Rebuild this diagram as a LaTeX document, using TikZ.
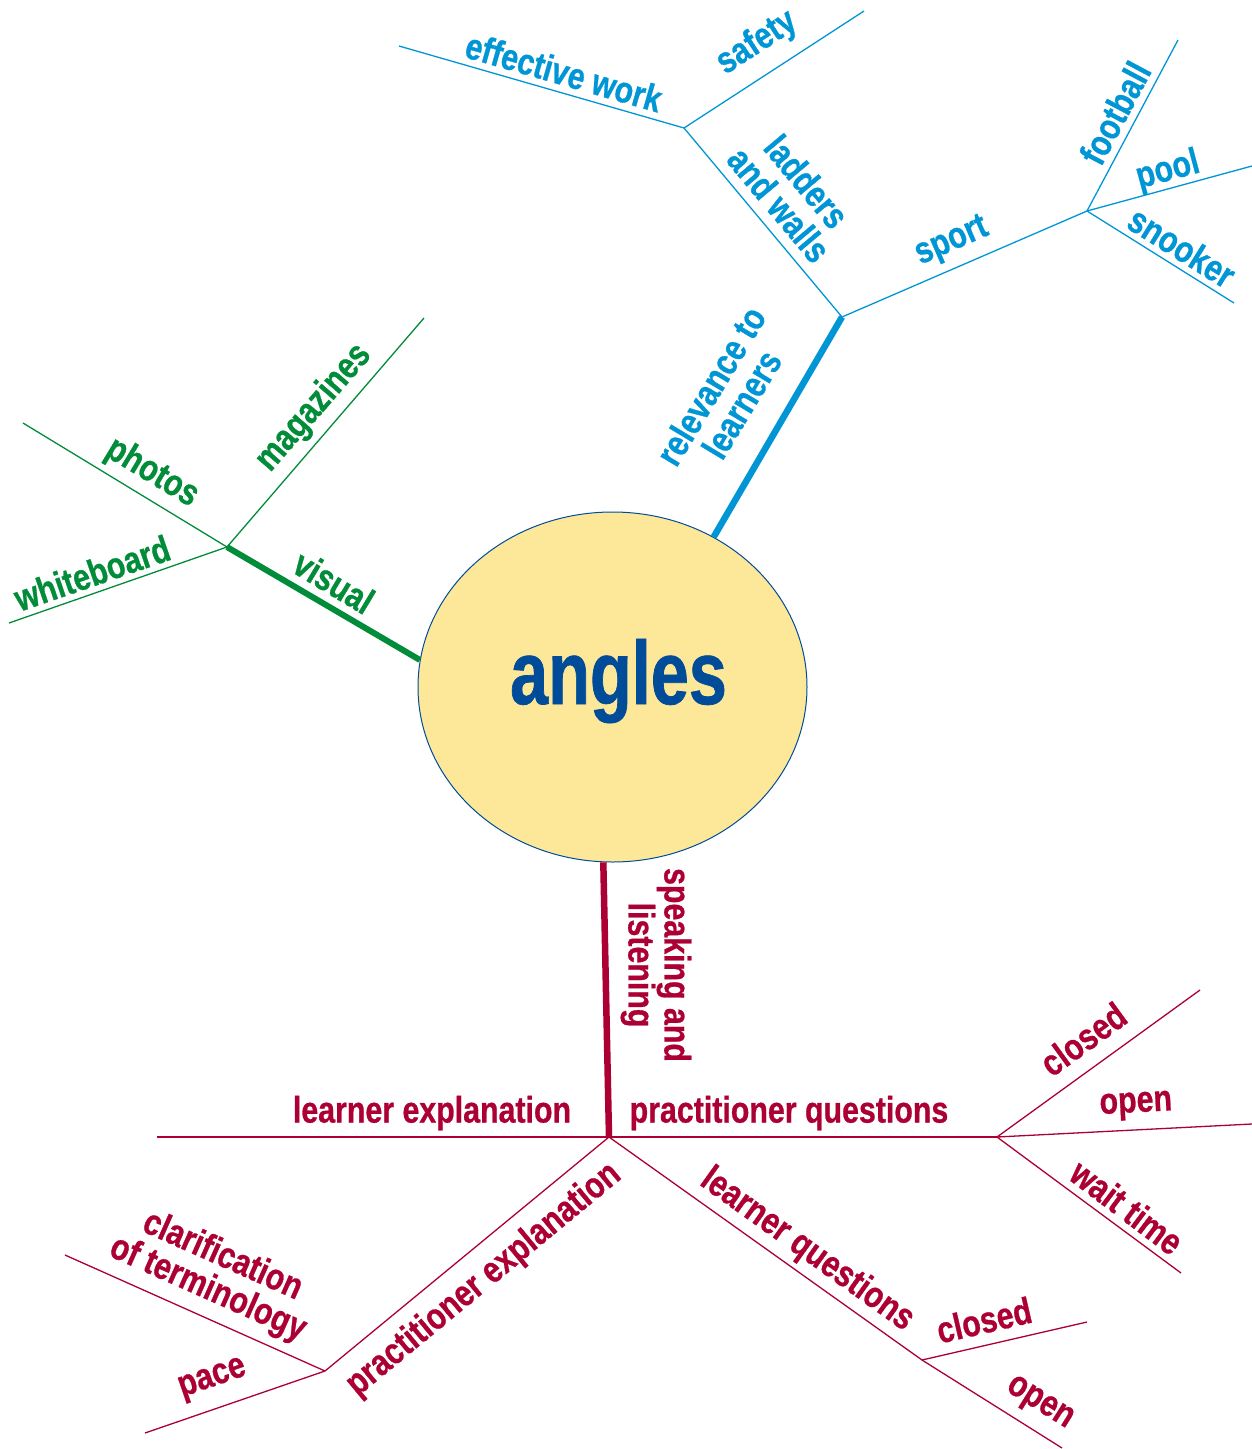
\documentclass[tikz,border=0pt]{standalone}
\usepackage{fontspec}
\newfontfamily\labfont{Liberation Sans}[FakeStretch=0.82, FakeBold=0.7]
\newfontfamily\centfont{Liberation Sans}[FakeStretch=0.76, FakeBold=0.8]
\usetikzlibrary{shapes.geometric}
\definecolor{cblue}{RGB}{0,150,214}
\definecolor{cgreen}{RGB}{0,140,56}
\definecolor{cred}{RGB}{172,0,52}
\definecolor{cnavy}{RGB}{0,76,153}
\definecolor{cfill}{RGB}{253,232,154}
\tikzset{
  lab/.style={font=\labfont\bfseries\fontsize{37}{36}\selectfont, inner sep=0pt, align=center},
  blab/.style={lab, text=cblue},
  glab/.style={lab, text=cgreen},
  rlab/.style={lab, text=cred},
  thinb/.style={draw=cblue, line width=1.3pt},
  thing/.style={draw=cgreen, line width=1.3pt},
  thinr/.style={draw=cred, line width=1.3pt},
  thickb/.style={draw=cblue, line width=6.5pt},
  thickg/.style={draw=cgreen, line width=6pt},
  thickr/.style={draw=cred, line width=6.5pt},
}
\begin{document}
\begin{tikzpicture}[x=1pt, y=-1pt]
\useasboundingbox (0,0) rectangle (1252,1449);
% centre
\node[ellipse, draw=cnavy, line width=1pt, fill=cfill, minimum width=389pt, minimum height=350pt, inner sep=0pt] (c) at (612.5,687) {};
\node[inner sep=0pt, font=\centfont\bfseries\fontsize{90}{90}\selectfont, text=cnavy] (ctext) at (618.5,681) {angles};
% blue junctions
\coordinate (J1) at (842,317);
\coordinate (J3) at (684,128);
\coordinate (J2) at (1087,211);
\coordinate (ew) at (399,46);
\coordinate (sf) at (864,11);
\coordinate (fb) at (1178,40);
\coordinate (pl) at (1252,166);
\coordinate (sn) at (1234,303);
\draw[thickb] (c.56.8) -- (J1);
\draw[thinb] (J1) -- (J3);
\draw[thinb] (J1) -- (J2);
\draw[thinb] (J3) -- (ew);
\draw[thinb] (J3) -- (sf);
\draw[thinb] (J2) -- (fb);
\draw[thinb] (J2) -- (pl);
\draw[thinb] (J2) -- (sn);
% green
\coordinate (G) at (227,547);
\coordinate (ph) at (23,423);
\coordinate (mg) at (424,318);
\coordinate (wb) at (9,623);
\draw[thickg] (c.172.6) -- (G);
\draw[thing] (G) -- (ph);
\draw[thing] (G) -- (mg);
\draw[thing] (G) -- (wb);
% red
\coordinate (R) at (609,1137);
\coordinate (le) at (157,1137);
\coordinate (P) at (997,1137);
\coordinate (cl1) at (1200,990);
\coordinate (op1) at (1252,1124);
\coordinate (wt) at (1181,1273);
\coordinate (Q) at (325,1371);
\coordinate (ct) at (65,1255);
\coordinate (pc) at (145,1433);
\coordinate (L) at (922,1360);
\coordinate (cl2) at (1087,1322);
\coordinate (op2) at (1062,1448);
\draw[thickr] (c.267) -- (R);
\draw[thinr] (le) -- (R) -- (P);
\draw[thinr] (P) -- (cl1);
\draw[thinr] (P) -- (op1);
\draw[thinr] (P) -- (wt);
\draw[thinr] (R) -- (Q);
\draw[thinr] (Q) -- (ct);
\draw[thinr] (Q) -- (pc);
\draw[thinr] (R) -- (L);
\draw[thinr] (L) -- (cl2);
\draw[thinr] (L) -- (op2);
% blue labels
\node[blab, rotate=-16] (t1) at (564,72) {effective work};
\node[blab, rotate=33] (t2) at (757,43) {safety};
\node[blab, rotate=-50] (t3) at (793,193) {ladders\\and walls};
\node[blab, rotate=23.5] (t4) at (952,242) {sport};
\node[blab, rotate=62] (t5) at (1115,113) {football};
\node[blab, rotate=15] (t6) at (1168,171) {pool};
\node[blab, rotate=-32] (t7) at (1182,247) {snooker};
\node[blab, rotate=59] (t8) at (726,395) {relevance to\\learners};
% green labels
\node[glab, rotate=-31] (g1) at (152,473) {photos};
\node[glab, rotate=49] (g2) at (314,408) {magazines};
\node[glab, rotate=19] (g3) at (92,573) {whiteboard};
\node[glab, rotate=-31] (g4) at (334,582) {visual};
% red labels
\node[rlab, rotate=-90] (r1) at (656,965) {speaking and\\listening};
\node[rlab] (r2) at (432,1113) {learner explanation};
\node[rlab] (r3) at (789,1113) {practitioner questions};
\node[rlab, rotate=36] (r4) at (1083,1039) {closed};
\node[rlab, rotate=3] (r5) at (1136,1106) {open};
\node[rlab, rotate=-37] (r6) at (1127,1207) {wait time};
\node[rlab, rotate=39.6] (r7) at (484,1280) {practitioner explanation};
\node[rlab, rotate=-24] (r8) at (215,1273) {clarification\\of terminology};
\node[rlab, rotate=19] (r9) at (213,1380) {pace};
\node[rlab, rotate=-35.6] (r10) at (807,1250) {learner questions};
\node[rlab, rotate=13] (r11) at (984,1320) {closed};
\node[rlab, rotate=-32] (r12) at (1039,1404) {open};
\end{tikzpicture}
\end{document}
